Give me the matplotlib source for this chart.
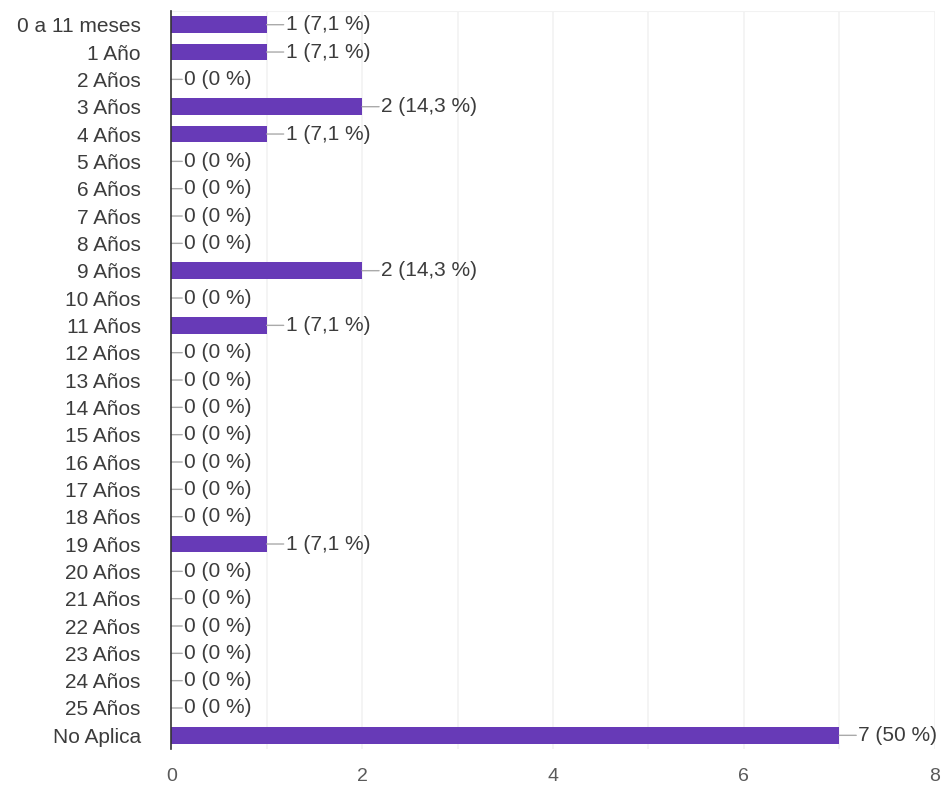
import matplotlib
matplotlib.use("Agg")
import matplotlib.pyplot as plt

plt.rcParams['font.family'] = ['Liberation Sans', 'DejaVu Sans']

categories = ["0 a 11 meses", "1 Año"] + [f"{i} Años" for i in range(2, 26)] + ["No Aplica"]
counts = [1, 1, 0, 2, 1, 0, 0, 0, 0, 2, 0, 1, 0, 0, 0, 0, 0, 0, 0, 1,
          0, 0, 0, 0, 0, 0, 7]
percents = ["7,1", "7,1", "0", "14,3", "7,1", "0", "0", "0", "0", "14,3", "0", "7,1",
            "0", "0", "0", "0", "0", "0", "0", "7,1", "0", "0", "0", "0", "0", "0", "50"]
xticks = [0, 2, 4, 6, 8]

bar_color = "#673ab7"
text_color = "#3c3c3c"

fig = plt.figure(figsize=(9.46, 7.88), dpi=100)
ax = fig.add_axes([0.181, 0.0495, 0.807, 0.9365])

n = len(categories)
ypos = list(range(n))
ax.barh(ypos, counts, height=0.6, color=bar_color, zorder=3)

ax.set_xlim(0, 8)
ax.set_ylim(n - 0.5, -0.5)
ax.set_yticks(ypos)
ax.set_yticklabels(categories, fontsize=15, color=text_color)
ax.set_xticks(xticks)
ax.set_xticklabels([str(t) for t in xticks], fontsize=14, color="#5a5a5a")

# faint vertical grid at each unit, faint top border
for gx in range(1, 9):
    ax.axvline(gx, color="#f2f2f2", lw=1.2, zorder=0)
for s in ["top", "right", "bottom"]:
    ax.spines[s].set_visible(False)
ax.axhline(-0.5, color="#f2f2f2", lw=1.5, zorder=0)
ax.spines["left"].set_color("#333333")
ax.spines["left"].set_linewidth(1.2)
ax.spines["left"].set_zorder(4)
ax.tick_params(axis="both", length=0)
ax.tick_params(axis="y", pad=22)
ax.tick_params(axis="x", pad=14)

# value labels with a short leader line
for y, c, p in zip(ypos, counts, percents):
    lead = 17 if c > 0 else 11
    ax.annotate("", xy=(c, y), xytext=(lead, 0), textcoords="offset pixels",
                arrowprops=dict(arrowstyle="-", color="#aaaaaa", lw=1,
                                shrinkA=0, shrinkB=0), zorder=4)
    ax.annotate(f"{c} ({p} %)", xy=(c, y), xytext=(lead + 2, 0), textcoords="offset pixels",
                va="center", ha="left", fontsize=15, color=text_color,
                annotation_clip=False, zorder=5)

fig.savefig("out.png", dpi=100, facecolor="white")
